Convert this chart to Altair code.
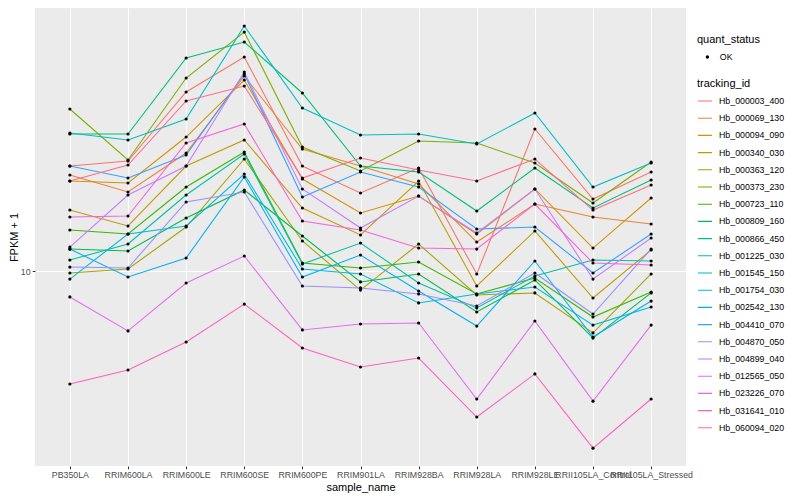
import altair as alt
import pandas as pd

samples = ["PB350LA", "RRIM600LA", "RRIM600LE", "RRIM600SE", "RRIM600PE",
           "RRIM901LA", "RRIM928BA", "RRIM928LA", "RRIM928LE",
           "RRII105LA_Control", "RRII105LA_Stressed"]

tracking_ids = ["Hb_000003_400", "Hb_000069_130", "Hb_000094_090", "Hb_000340_030",
                "Hb_000363_120", "Hb_000373_230", "Hb_000723_110", "Hb_000809_160",
                "Hb_000866_450", "Hb_001225_030", "Hb_001545_150", "Hb_001754_030",
                "Hb_002542_130", "Hb_004410_070", "Hb_004870_050", "Hb_004899_040",
                "Hb_012565_050", "Hb_023226_070", "Hb_031641_010", "Hb_060094_020"]

colors = ["#F8766D", "#EA8331", "#D89000", "#C09B00", "#A3A500", "#7CAE00", "#39B600",
          "#00BB4E", "#00BF7D", "#00C1A3", "#00BFC4", "#00BAE0", "#00B0F6", "#35A2FF",
          "#9590FF", "#C77CFF", "#E76BF3", "#FA62DB", "#FF62BC", "#FF6C91"]

# FPKM + 1 per sample (in sample order)
hb_000003_400 = [23.71, 24.71, 43.58, 58.11, 23.71, 18.99, 23.33, 9.76, 32.15, 18.08, 22.57]
hb_000069_130 = [22.02, 19.15, 26.39, 49.71, 27.27, 23.71, 20.45, 12.69, 17.35, 15.59, 14.72]
hb_000094_090 = [20.96, 20.62, 30.10, 48.10, 21.31, 16.11, 18.53, 13.56, 19.63, 12.08, 18.23]
hb_000340_030 = [16.51, 14.48, 23.71, 29.37, 16.79, 13.45, 20.96, 8.84, 13.90, 8.01, 11.89]
hb_000363_120 = [9.84, 10.17, 14.36, 25.12, 12.80, 8.55, 12.49, 8.21, 8.35, 6.01, 9.76]
hb_000373_230 = [37.90, 24.91, 48.90, 71.38, 27.72, 22.76, 29.13, 28.65, 24.31, 17.49, 24.51]
hb_000723_110 = [14.01, 13.56, 19.95, 26.61, 10.68, 10.25, 10.77, 8.28, 9.44, 6.85, 8.41]
hb_000809_160 = [11.98, 11.79, 15.46, 19.47, 13.34, 9.14, 9.76, 7.14, 9.29, 5.76, 8.35]
hb_000866_450 = [30.85, 30.85, 57.64, 65.75, 43.23, 23.71, 22.57, 16.38, 23.33, 16.79, 21.14]
hb_001225_030 = [10.95, 12.49, 18.68, 26.17, 10.59, 12.59, 9.06, 7.38, 9.60, 10.95, 10.86]
hb_001545_150 = [31.11, 29.37, 34.90, 74.99, 38.21, 30.60, 30.85, 28.42, 36.67, 19.95, 24.31]
hb_001754_030 = [9.36, 13.56, 14.48, 22.20, 10.17, 9.76, 7.69, 8.28, 8.77, 6.41, 7.44]
hb_002542_130 = [11.98, 9.52, 11.13, 21.66, 9.52, 11.41, 8.48, 6.36, 10.86, 5.81, 7.81]
hb_004410_070 = [23.71, 21.49, 25.96, 50.54, 18.38, 22.57, 19.95, 14.13, 14.36, 9.84, 13.56]
hb_004870_050 = [10.33, 10.25, 17.64, 19.15, 8.84, 8.70, 8.28, 7.50, 9.84, 7.02, 11.98]
hb_004899_040 = [12.18, 18.68, 23.71, 51.37, 19.63, 14.24, 18.53, 13.67, 19.63, 9.36, 13.12]
hb_012565_050 = [8.08, 6.11, 9.06, 11.31, 6.16, 6.47, 6.52, 3.49, 6.63, 3.43, 6.41]
hb_023226_070 = [15.59, 15.72, 28.65, 33.50, 15.09, 14.01, 12.08, 11.98, 17.35, 10.68, 10.51]
hb_031641_010 = [3.95, 4.43, 5.58, 7.62, 5.31, 4.54, 4.89, 3.01, 4.29, 2.33, 3.49]
hb_060094_020 = [20.96, 23.91, 40.47, 45.79, 21.49, 25.33, 22.95, 20.96, 25.12, 16.51, 20.28]

series = [hb_000003_400, hb_000069_130, hb_000094_090, hb_000340_030, hb_000363_120,
          hb_000373_230, hb_000723_110, hb_000809_160, hb_000866_450, hb_001225_030,
          hb_001545_150, hb_001754_030, hb_002542_130, hb_004410_070, hb_004870_050,
          hb_004899_040, hb_012565_050, hb_023226_070, hb_031641_010, hb_060094_020]

rows = []
for tid, vals in zip(tracking_ids, series):
    for s, v in zip(samples, vals):
        rows.append({"tracking_id": tid, "sample_name": s, "fpkm": v, "quant_status": "OK"})
df = pd.DataFrame(rows)

FONT = "Liberation Sans"

x_enc = alt.X("sample_name:N", sort=samples, title="sample_name",
              scale=alt.Scale(type="point", padding=0.6),
              axis=alt.Axis(labelAngle=0, labelPadding=2.2, titlePadding=2))
y_enc = alt.Y("fpkm:Q", title="FPKM + 1",
              scale=alt.Scale(type="log", domain=[2.012, 86.96], nice=False, zero=False),
              axis=alt.Axis(values=[10], format="d", labelPadding=2.2, titlePadding=0.5))

lines = alt.Chart(df).mark_line(strokeWidth=1.07).encode(
    x=x_enc,
    y=y_enc,
    color=alt.Color("tracking_id:N", title="tracking_id",
                    scale=alt.Scale(domain=tracking_ids, range=colors),
                    legend=alt.Legend(orient="none", legendX=662, legendY=70,
                                      symbolType="stroke", symbolSize=196,
                                      symbolStrokeWidth=1.07, clipHeight=16,
                                      rowPadding=1.2, titlePadding=4, labelOffset=6)),
    detail="tracking_id:N",
)

points = alt.Chart(df).mark_point(filled=True, color="black", size=10, opacity=1).encode(
    x=x_enc,
    y=y_enc,
    shape=alt.Shape("quant_status:N", title="quant_status",
                    scale=alt.Scale(domain=["OK"], range=["circle"]),
                    legend=alt.Legend(orient="none", legendX=662, legendY=26,
                                      symbolSize=12, symbolFillColor="black",
                                      symbolStrokeColor="black", clipHeight=16,
                                      symbolOffset=6, labelOffset=8,
                                      titlePadding=4)),
)

chart = alt.layer(lines, points).properties(
    width=651, height=458,
    autosize=alt.AutoSizeParams(type="none"),
    padding={"left": 27, "top": 0, "right": 106, "bottom": 30},
).resolve_legend(color="independent", shape="independent").configure_view(
    fill="#EBEBEB", strokeWidth=0
).configure_axis(
    grid=True, gridColor="#FFFFFF", gridWidth=1.07, domain=False,
    tickColor="#333333", tickSize=2.75, tickWidth=1.07,
    labelColor="#4D4D4D", labelFontSize=8.8, labelFont=FONT,
    titleFont=FONT, titleFontSize=11, titleFontWeight="normal", titleColor="black",
).configure_legend(
    titleFont=FONT, titleFontSize=11, titleFontWeight="normal", titleColor="black",
    labelFont=FONT, labelFontSize=8.8, labelColor="black",
)

chart.save("out.html", embed_options={"renderer": "svg", "actions": False})
